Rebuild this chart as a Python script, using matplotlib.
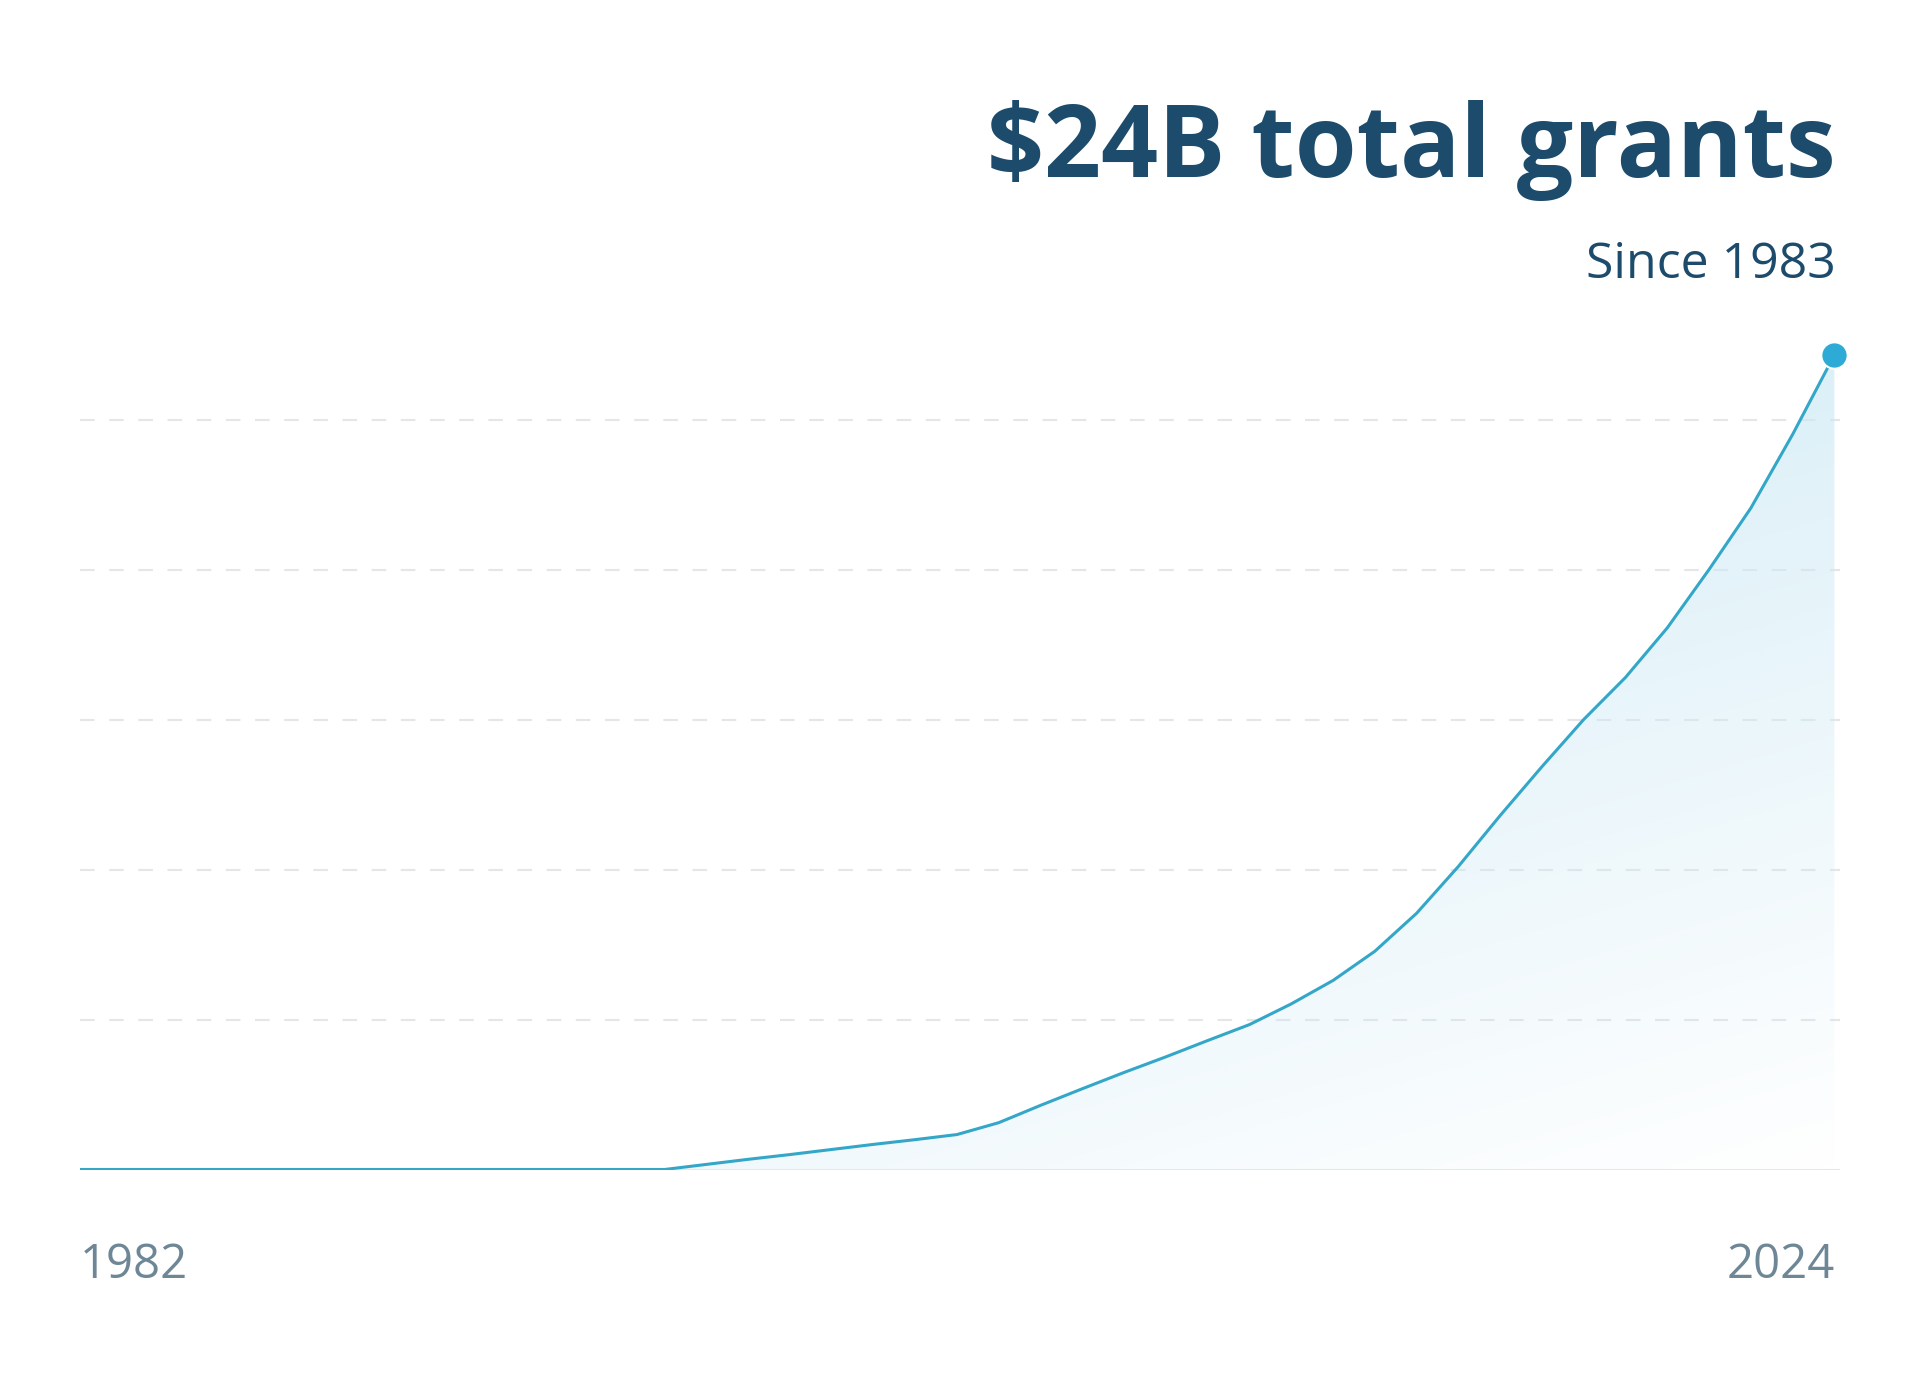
import numpy as np
import matplotlib
matplotlib.use("Agg")
from matplotlib import pyplot as plt

# cumulative grants, $B
years = list(range(1982, 2025))
grants = [0, 0, 0, 0, 0, 0, 0, 0, 0, 0, 0, 0, 0, 0, 0,
          0.15, 0.30, 0.44, 0.59, 0.74, 0.88, 1.03, 1.38, 1.89,
          2.38, 2.86, 3.32, 3.80, 4.27, 4.88, 5.57, 6.43, 7.55,
          8.93, 10.43, 11.87, 13.26, 14.50, 15.96, 17.68, 19.49,
          21.66, 24.0]
grid_step = 4.42
title = "$24B total grants"
subtitle = "Since 1983"
xlabels = ["1982", "2024"]

navy = "#1c4b6c"
line_c = "#34a7c9"
dot_c = "#2eaad6"
label_c = "#6e8797"

plt.rcParams['font.family'] = ['Open Sans', 'DejaVu Sans']

W, H = 1920, 1374
fig = plt.figure(figsize=(W / 100, H / 100), dpi=100)
fig.patch.set_facecolor("white")

x0, x1 = 79.6, 1840
ybase = 1169.5
unit_px = 150.0
ytop_units = 5.6
ax = fig.add_axes([x0 / W, (H - ybase) / H, (x1 - x0) / W,
                   ytop_units * unit_px / H])
ymax = ytop_units * grid_step
ax.set_xlim(1982, 1982 + (2024 - 1982) * (x1 - x0) / (1834.4 - x0))
ax.set_ylim(0, ymax)
for s in ax.spines.values():
    s.set_visible(False)
ax.set_yticks([])

# dashed gridlines
for k in range(1, 6):
    ax.axhline(k * grid_step, color="#e4e6e8", lw=1.5, dashes=(7, 7), zorder=1)
ax.axhline(0, color="#e3e8ec", lw=2.2, zorder=1)

x = np.array(years, dtype=float)
y = np.array(grants)

# gradient fill under the curve
poly = ax.fill_between(x, 0, y, facecolor="none", edgecolor="none")
n = 300
uu, vv = np.meshgrid(np.linspace(0, 1, n), np.linspace(0, 1, n))
s = np.clip(vv * 0.8 + (1 - uu) * 0.5, 0, 1)
rgba = np.zeros((n, n, 4))
rgba[..., 0] = 0.80
rgba[..., 1] = 0.915
rgba[..., 2] = 0.96
rgba[..., 3] = s * 0.88
xl = ax.get_xlim()
im = ax.imshow(rgba, extent=[xl[0], xl[1], 0, ymax], origin="lower",
               aspect="auto", zorder=2, interpolation="bilinear")
im.set_clip_path(poly.get_paths()[0], transform=ax.transData)

ax.plot(x, y, color=line_c, lw=2.2, zorder=3, solid_joinstyle="round")
ax.plot([x[-1]], [y[-1]], "o", ms=19, color=dot_c, mec="white", mew=1.5,
        zorder=4, clip_on=False)

ax.set_xticks([1982, 2024])
ax.set_xticklabels(xlabels, fontsize=34, color=label_c)
ax.tick_params(axis="x", length=0, pad=52)
tl = ax.get_xticklabels()
tl[0].set_ha("left")
tl[1].set_ha("right")

fig.text(1836 / W, 1 - 177 / H, title, ha="right", va="baseline",
         fontsize=72, fontweight="bold", color=navy)
fig.text(1836 / W, 1 - 278 / H, subtitle, ha="right", va="baseline",
         fontsize=36, color=navy)

fig.savefig("out.png", dpi=100, facecolor="white")
